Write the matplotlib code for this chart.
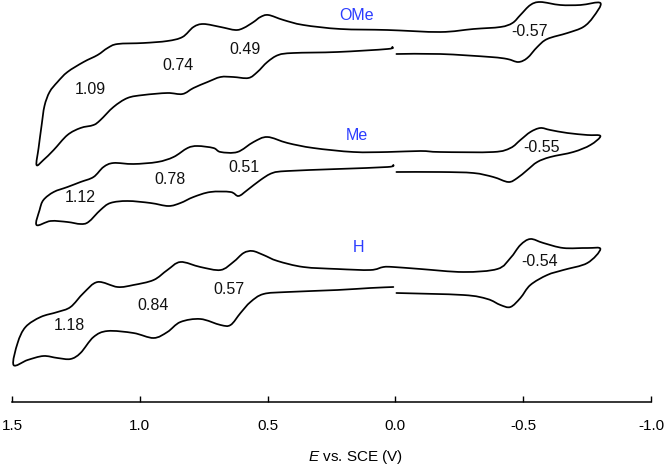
import matplotlib
matplotlib.use("Agg")
import matplotlib.pyplot as plt
from matplotlib.path import Path
from matplotlib.patches import PathPatch
import numpy as np

plt.rcParams['font.family'] = ['Liberation Sans', 'DejaVu Sans']
plt.rcParams['mathtext.fontset'] = 'custom'
plt.rcParams['mathtext.it'] = 'Liberation Sans:italic'
plt.rcParams['mathtext.rm'] = 'Liberation Sans'

# ---- data (potential in V vs SCE, current in arbitrary units, curves offset) ----
ome_E = [-0.004, -0.176, -0.372, -0.438, -0.481, -0.516, -0.555, -0.594, -0.673, -0.735, -0.774, -0.802,
         -0.724, -0.645, -0.567, -0.528, -0.489, -0.458, -0.411, -0.305, -0.176, 0.031, 0.215, 0.360, 0.438,
         0.497, 0.528, 0.555, 0.594, 0.626, 0.684, 0.751, 0.790, 0.833, 0.892, 0.986, 1.087, 1.126, 1.165,
         1.220, 1.283, 1.322, 1.353, 1.373, 1.384, 1.396, 1.404,
         1.377, 1.337, 1.283, 1.232, 1.181, 1.154, 1.103, 1.048, 0.986, 0.892, 0.833, 0.790, 0.735, 0.684,
         0.634, 0.575, 0.540, 0.501, 0.458, 0.399, 0.227, 0.031, 0.012]
ome_I = [348, 348, 345, 343, 340, 344, 355, 363, 369, 375, 385, 399,
         397, 397, 400, 397, 387, 379, 375, 373, 370, 372, 373, 377, 382,
         387, 385, 380, 374, 372, 375, 378, 375, 365, 361, 359, 358, 354, 347,
         340, 330, 320, 310, 296, 277, 254, 237,
         242, 252, 267, 274, 277, 282, 295, 304, 307, 309, 308, 314, 320, 325,
         325, 324, 330, 340, 347, 349, 350, 353, 355]

me_E = [-0.004, -0.176, -0.305, -0.383, -0.442, -0.477, -0.516, -0.555, -0.606, -0.696, -0.763, -0.802,
        -0.751, -0.673, -0.606, -0.567, -0.528, -0.489, -0.450, -0.383, -0.176, -0.098, 0.031, 0.164, 0.321,
        0.422, 0.501, 0.555, 0.618, 0.684, 0.712, 0.774, 0.813, 0.868, 0.931, 1.025, 1.103, 1.142, 1.181,
        1.232, 1.283, 1.337, 1.377, 1.392, 1.404,
        1.349, 1.283, 1.232, 1.201, 1.154, 1.115, 1.048, 0.958, 0.888, 0.841, 0.790, 0.724, 0.645, 0.614,
        0.579, 0.528, 0.481, 0.422, 0.227, 0.031, 0.008]
me_I = [230, 230, 229, 225, 220, 224, 232, 240, 245, 250, 257, 266,
        267, 269, 272, 274, 270, 262, 254, 250, 250, 251, 250, 250, 254,
        259, 265, 260, 250, 250, 254, 256, 254, 245, 240, 238, 239, 235, 225,
        220, 215, 210, 202, 192, 177,
        181, 180, 178, 180, 192, 199, 201, 199, 196, 199, 205, 210, 210, 206,
        212, 222, 229, 231, 233, 235, 237]

h_E = [-0.004, -0.266, -0.360, -0.411, -0.450, -0.489, -0.528, -0.594, -0.657, -0.751, -0.802,
       -0.751, -0.657, -0.579, -0.528, -0.489, -0.450, -0.399, -0.266, -0.098, 0.008, 0.047, 0.098, 0.227,
       0.360, 0.461, 0.516, 0.559, 0.594, 0.634, 0.684, 0.763, 0.841, 0.892, 0.946, 1.025, 1.087, 1.165,
       1.220, 1.271, 1.322, 1.388, 1.447, 1.478, 1.494,
       1.439, 1.377, 1.322, 1.271, 1.232, 1.181, 1.126, 1.025, 0.946, 0.892, 0.841, 0.763, 0.684, 0.645,
       0.606, 0.567, 0.516, 0.422, 0.227, 0.098, 0.008]
h_I = [109, 107, 103, 97, 95, 104, 117, 127, 132, 139, 153,
       154, 154, 159, 163, 157, 144, 133, 130, 133, 135, 135, 132, 133,
       135, 141, 147, 151, 149, 140, 132, 135, 140, 132, 122, 117, 115, 120,
       109, 95, 90, 85, 75, 59, 37,
       42, 46, 44, 43, 49, 65, 71, 69, 64, 70, 80, 83, 77, 77,
       89, 100, 108, 110, 112, 114, 115]

# peak potential labels: (text, E, I)
ome_labels = [("1.09", 1.193, 312), ("0.74", 0.849, 336), ("0.49", 0.587, 353), ("-0.57", -0.524, 370)]
me_labels = [("1.12", 1.232, 204), ("0.78", 0.880, 222), ("0.51", 0.594, 234), ("-0.55", -0.571, 255)]
h_labels = [("1.18", 1.275, 77), ("0.84", 0.950, 96), ("0.57", 0.653, 112), ("-0.54", -0.563, 141)]
names = [("OMe", 0.153, 387), ("Me", 0.149, 266), ("H", 0.145, 154)]

xticks = [1.5, 1.0, 0.5, 0.0, -0.5, -1.0]
xtick_labels = ["1.5", "1.0", "0.5", "0.0", "-0.5", "-1.0"]


def smooth_path(E, I):
    """Draw a curve through the given points with Catmull-Rom style Bezier segments."""
    P = np.column_stack([E, I]).astype(float)
    n = len(P)
    verts = [P[0]]
    codes = [Path.MOVETO]
    for i in range(n - 1):
        p0 = P[i - 1] if i > 0 else P[i]
        p1 = P[i]
        p2 = P[i + 1]
        p3 = P[i + 2] if i + 2 < n else P[i + 1]
        c1 = p1 + (p2 - p0) / 6.0
        c2 = p2 - (p3 - p1) / 6.0
        verts += [c1, c2, p2]
        codes += [Path.CURVE4] * 3
    return Path(verts, codes)


# ---- figure ----
fig = plt.figure(figsize=(6.66, 4.66), dpi=100)
ax = fig.add_axes([12 / 666, 64 / 466, 639 / 666, 402 / 466])

for E, I in [(ome_E, ome_I), (me_E, me_I), (h_E, h_I)]:
    patch = PathPatch(smooth_path(E, I), fill=False, edgecolor='black', lw=1.25,
                      joinstyle='round', capstyle='round', clip_on=False)
    ax.add_patch(patch)

for lab in [ome_labels, me_labels, h_labels]:
    for t, x, y in lab:
        ax.text(x, y, t, fontsize=11.5, ha='center', va='center', color='#111111')

for t, x, y in names:
    ax.text(x, y, t, fontsize=11.5, ha='center', va='center', color='#2b3cff')

ax.set_xlim(1.5, -1.0)
ax.set_ylim(0, 402)
ax.set_xticks(xticks)
ax.set_xticklabels(xtick_labels)
ax.tick_params(axis='x', direction='in', length=4, width=1.0, pad=12, labelsize=11)
ax.set_yticks([])
for s in ['top', 'right', 'left']:
    ax.spines[s].set_visible(False)
ax.spines['bottom'].set_linewidth(1.1)

fig.text(356 / 666, 1 - 457 / 466, r"$\it{E}$ vs. SCE (V)", ha='center', va='center', fontsize=11)

fig.savefig("out.png", dpi=100)
